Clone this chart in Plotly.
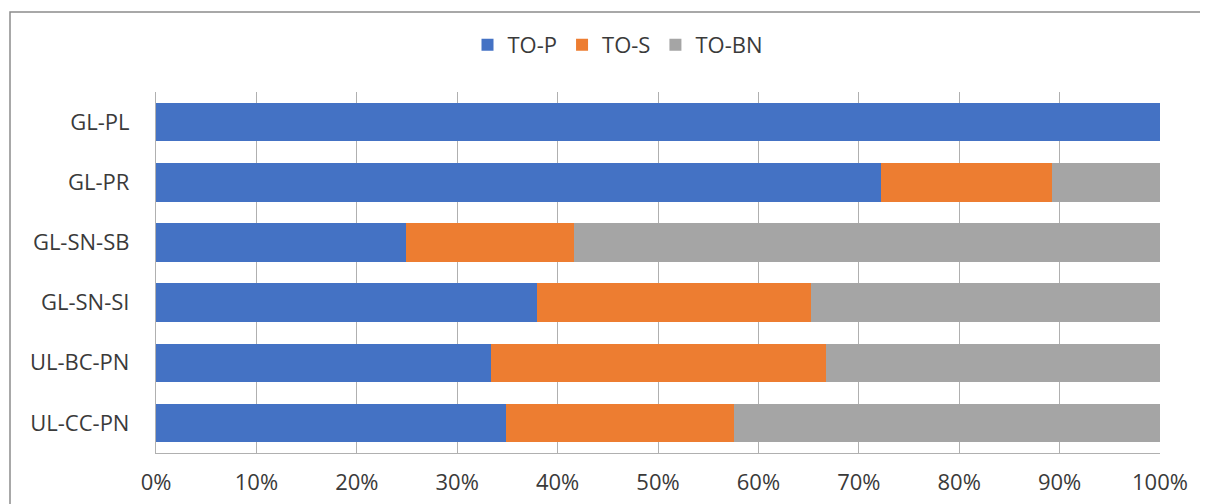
import plotly.graph_objects as go

categories = ["GL-PL", "GL-PR", "GL-SN-SB", "GL-SN-SI", "UL-BC-PN", "UL-CC-PN"]
to_p = [1.000, 0.722, 0.249, 0.379, 0.334, 0.349]
to_s = [0.000, 0.170, 0.167, 0.273, 0.333, 0.227]
to_bn = [0.000, 0.108, 0.584, 0.348, 0.333, 0.424]
series_names = ["TO-P", "TO-S", "TO-BN"]
colors = ["#4472C4", "#ED7D31", "#A5A5A5"]
x_ticks = [i / 10 for i in range(11)]

FONT = "Open Sans"
FS = 22
TXT = "#3A3A3A"

fig = go.Figure()
for name, vals, col in zip(series_names, [to_p, to_s, to_bn], colors):
    fig.add_trace(go.Bar(
        y=categories, x=vals, name=name, orientation="h",
        marker=dict(color=col, line=dict(width=0)),
    ))

# page body has an 8px offset, so the figure is 8px smaller in each direction
OFF = 8
W, H = 1208 - OFF, 504 - OFF
L, R, T, B = 156 - OFF, 48, 92 - OFF, 51
pw = W - L - R
ph = H - T - B

fig.update_layout(
    width=W, height=H,
    barmode="stack", bargap=0.36,
    margin=dict(l=L, r=R, t=T, b=B, pad=0, autoexpand=False),
    paper_bgcolor="white", plot_bgcolor="white",
    font=dict(family=FONT, size=FS, color=TXT),
    legend=dict(
        orientation="h", xref="container", yref="container",
        x=(618 - OFF) / W, xanchor="center", y=1 - (45 - OFF) / H, yanchor="middle",
        font=dict(family=FONT, size=FS, color=TXT),
        traceorder="normal", itemwidth=30,
    ),
    xaxis=dict(
        range=[0, 1], tickvals=x_ticks, tickformat=".0%",
        showgrid=True, gridcolor="#B0B0B0", gridwidth=1.3,
        zeroline=False, showline=True, linecolor="#B0B0B0", linewidth=1.3,
        ticks="", ticklabelstandoff=9, automargin=False,
        tickfont=dict(family=FONT, size=FS, color=TXT),
        fixedrange=True,
    ),
    yaxis=dict(
        categoryorder="array", categoryarray=categories, autorange="reversed",
        showgrid=False, zeroline=False, showline=True, linecolor="#B0B0B0", linewidth=1.3,
        ticks="", ticklabelstandoff=21, automargin=False,
        tickfont=dict(family=FONT, size=FS, color=TXT),
        fixedrange=True,
    ),
    shapes=[dict(
        type="rect", xref="paper", yref="paper",
        x0=(10 - 156) / pw, x1=1.2, y0=-0.4, y1=(453 - 12) / ph,
        line=dict(color="#8C8C8C", width=1.5), fillcolor="rgba(0,0,0,0)",
        layer="below",
    )],
)

fig.write_html("out.html")
